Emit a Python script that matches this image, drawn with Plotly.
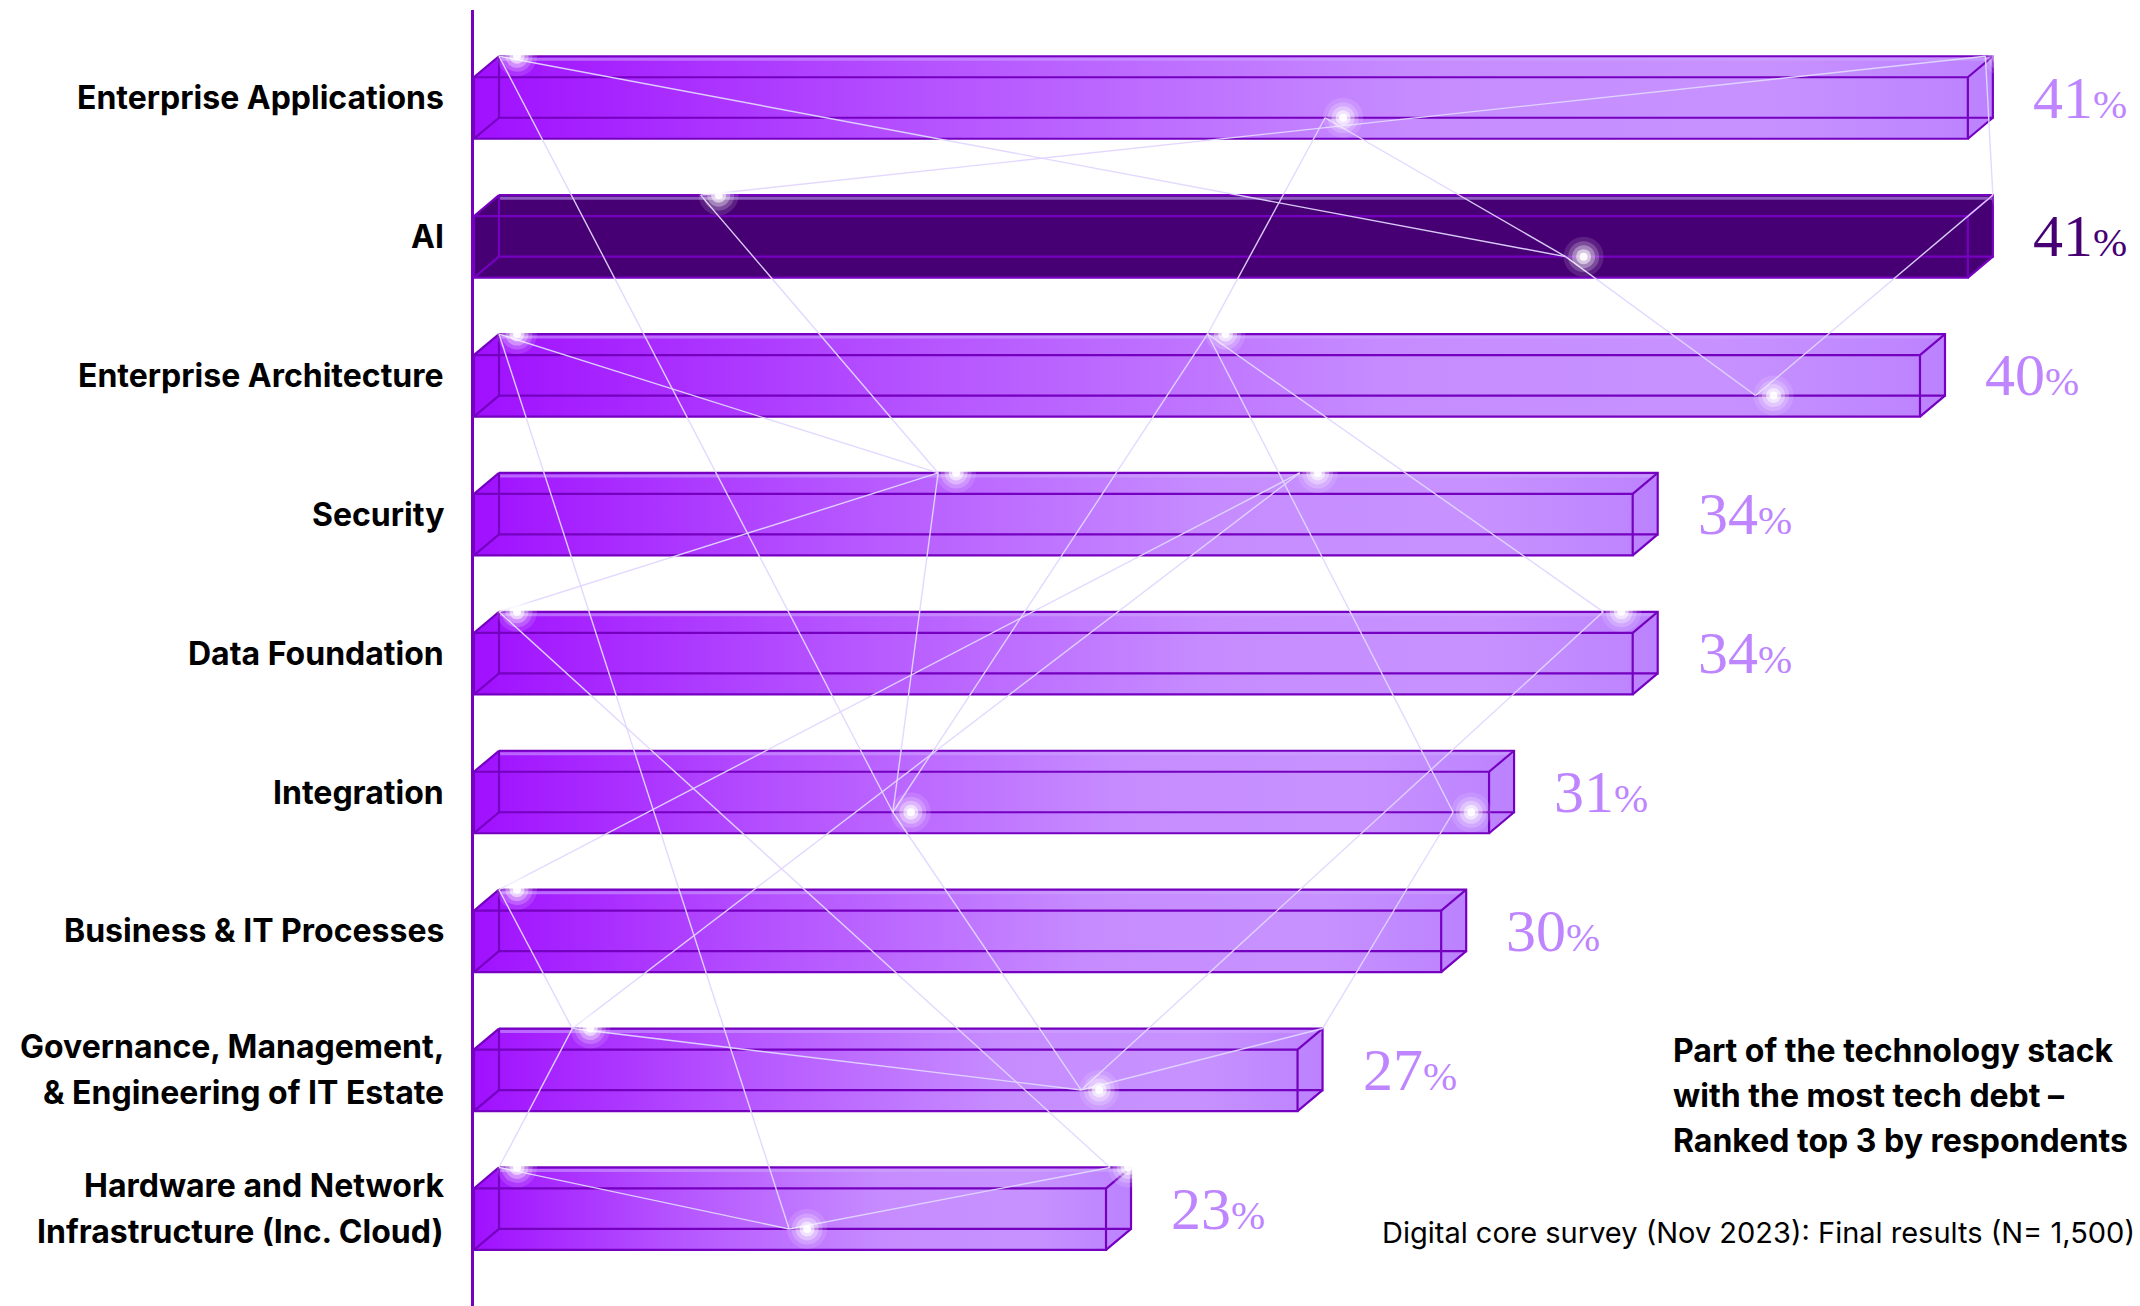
import plotly.graph_objects as go

# ---------------------------------------------------------------- data
categories = [
    "Enterprise Applications",
    "AI",
    "Enterprise Architecture",
    "Security",
    "Data Foundation",
    "Integration",
    "Business & IT Processes",
    "Governance, Management,<br>& Engineering of IT Estate",
    "Hardware and Network<br>Infrastructure (Inc. Cloud)",
]
values = [41, 41, 40, 34, 34, 31, 30, 27, 23]
highlight_category = "AI"

title_lines = [
    "Part of the technology stack",
    "with the most tech debt –",
    "Ranked top 3 by respondents",
]
source_note = "Digital core survey (Nov 2023): Final results (N= 1,500)"

# ---------------------------------------------------------------- styling
FIG_W, FIG_H = 2140, 1306
L_MARGIN, T_MARGIN = 474, 10
AXIS_START = 9.8          # value at which the category axis line sits
PX_PER_UNIT = 47.88       # horizontal scale
ROW0_PX, ROW_PITCH = 97.5, 138.9

DEPTH_X = 25 / PX_PER_UNIT     # 3D box depth (data units)
DEPTH_Y = 21 / ROW_PITCH
FACE_H = 61.5 / ROW_PITCH

EDGE = "#7500C0"
DARK = "#460073"
LAVENDER = "#BE85FF"
LINK = "rgba(226,214,255,0.95)"
BAR_SCALE = [
    [0.0, "#A010FF"],
    [0.3, "#B553FF"],
    [0.62, "#C68CFF"],
    [0.85, "#C792FF"],
    [1.0, "#BC82FF"],
]
SANS = "Inter, Roboto, Arial, sans-serif"
SERIF = "Liberation Serif, DejaVu Serif, serif"

x_range = [AXIS_START, AXIS_START + (FIG_W - L_MARGIN) / PX_PER_UNIT]
y_range = [(FIG_H - ROW0_PX) / ROW_PITCH, (T_MARGIN - ROW0_PX) / ROW_PITCH]


def box_geometry(row, value):
    x0, x1 = AXIS_START, value
    bt = row - (FACE_H + DEPTH_Y) / 2
    ft = bt + DEPTH_Y
    bb = bt + FACE_H
    fb = ft + FACE_H
    return x0, x1, bt, ft, bb, fb


fig = go.Figure()

# ---------------------------------------------------------------- 3D bars
for row, (cat, val) in enumerate(zip(categories, values)):
    x0, x1, bt, ft, bb, fb = box_geometry(row, val)
    dx = DEPTH_X
    sil_x = [x0, x0, x0 + dx, x1 + dx, x1 + dx, x1, x0]
    sil_y = [fb, ft, bt, bt, bb, fb, fb]
    fill_kw = {}
    if cat == highlight_category:
        fill_kw["fillcolor"] = DARK
    else:
        fill_kw["fillgradient"] = dict(
            type="horizontal", colorscale=BAR_SCALE, start=x0, stop=x1 + dx
        )
    fig.add_trace(go.Scatter(
        x=sil_x, y=sil_y, mode="lines", fill="toself",
        line=dict(width=0), hoverinfo="skip", **fill_kw,
    ))

    # light sheen just under the top back edge
    fig.add_trace(go.Scatter(
        x=[x0 + dx, x1 + dx], y=[bt + 3 / ROW_PITCH, bt + 3 / ROW_PITCH],
        mode="lines", line=dict(color="rgba(205,165,255,0.55)", width=3),
        hoverinfo="skip",
    ))

    # wireframe edges
    ex, ey = [], []
    segs = [
        [(x0, ft), (x1, ft), (x1, fb), (x0, fb), (x0, ft)],
        [(x0 + dx, bt), (x1 + dx, bt), (x1 + dx, bb), (x0 + dx, bb), (x0 + dx, bt)],
        [(x0, ft), (x0 + dx, bt)],
        [(x1, ft), (x1 + dx, bt)],
        [(x1, fb), (x1 + dx, bb)],
        [(x0, fb), (x0 + dx, bb)],
    ]
    for seg in segs:
        for px, py in seg:
            ex.append(px)
            ey.append(py)
        ex.append(None)
        ey.append(None)
    fig.add_trace(go.Scatter(
        x=ex, y=ey, mode="lines", line=dict(color=EDGE, width=2.2),
        hoverinfo="skip",
    ))

# ---------------------------------------------------------------- constellation
# node: (row, position along the bar's back edge 0..1, which back edge, glow)
star_nodes = {
    "A": (0, 0.0, "top", True),
    "B": (0, 0.553, "bottom", True),
    "C": (0, 0.995, "top", True),
    "D": (1, 0.135, "top", True),
    "E": (1, 0.714, "bottom", True),
    "F": (1, 1.0, "top", True),
    "G": (2, 0.0, "top", True),
    "H": (2, 0.49, "top", True),
    "I": (2, 0.869, "bottom", True),
    "J": (3, 0.379, "top", True),
    "K": (3, 0.691, "top", True),
    "L": (4, 0.0, "top", True),
    "M": (4, 0.953, "top", True),
    "N": (5, 0.388, "bottom", True),
    "O": (5, 0.94, "bottom", True),
    "P": (6, 0.0, "top", True),
    "Q": (7, 0.089, "top", True),
    "R": (7, 0.707, "bottom", True),
    "V": (7, 1.0, "top", False),
    "S": (8, 0.0, "top", True),
    "T": (8, 0.459, "bottom", True),
    "U": (8, 0.967, "top", True),
}
star_links = [
    "A-E", "A-N", "D-C", "C-F", "B-E", "B-H", "F-I", "E-I", "D-J", "G-J",
    "G-T", "H-N", "H-M", "H-O", "J-L", "J-N", "L-U", "K-P", "K-Q", "N-R",
    "R-V", "V-O", "R-M", "P-Q", "Q-R", "Q-S", "S-T", "T-U",
]


def node_xy(name):
    row, t, edge, _ = star_nodes[name]
    x0, x1, bt, ft, bb, fb = box_geometry(row, values[row])
    x = x0 + DEPTH_X + t * (x1 - x0)
    y = bt if edge == "top" else bb
    return x, y


lx, ly = [], []
for link in star_links:
    a, b = link.split("-")
    for n in (a, b):
        x, y = node_xy(n)
        lx.append(x)
        ly.append(y)
    lx.append(None)
    ly.append(None)
fig.add_trace(go.Scatter(
    x=lx, y=ly, mode="lines", line=dict(color=LINK, width=1.4),
    hoverinfo="skip",
))

# soft glow at the nodes, built from stacked translucent discs
glow = [node_xy(n) for n, v in star_nodes.items() if v[3]]
gx = [p[0] + 18 / PX_PER_UNIT for p in glow]
gy = [p[1] for p in glow]
for size, op in [(40, 0.12), (31, 0.2), (23, 0.32), (15, 0.55), (8, 0.9)]:
    fig.add_trace(go.Scatter(
        x=gx, y=gy, mode="markers",
        marker=dict(size=size, color="white", opacity=op, line=dict(width=0)),
        hoverinfo="skip",
    ))

# ---------------------------------------------------------------- text
annotations = []
LINE_GAP = 46
for row, (cat, val) in enumerate(zip(categories, values)):
    lines = cat.split("<br>")
    n = len(lines)
    for k, line in enumerate(lines):
        annotations.append(dict(
            xref="paper", x=0, xanchor="right", xshift=-28,
            yref="y", y=row, yanchor="middle",
            yshift=((n - 1) / 2 - k) * LINE_GAP,
            text=line, showarrow=False,
            font=dict(family=SANS, size=32, color="#000000", weight=700),
        ))
    color = DARK if cat == highlight_category else LAVENDER
    annotations.append(dict(
        xref="x", x=val + DEPTH_X + 38 / PX_PER_UNIT, xanchor="left",
        yref="y", y=row, yanchor="middle", yshift=0,
        text=f"{val}<span style='font-size:41px'>%</span>",
        showarrow=False,
        font=dict(family=SERIF, size=60, color=color),
    ))


def paper_x(px):
    return (px - L_MARGIN) / (FIG_W - L_MARGIN)


def paper_y(py):
    return (FIG_H - py) / (FIG_H - T_MARGIN)


TITLE_TOP = 1050
for k, line in enumerate(title_lines):
    annotations.append(dict(
        xref="paper", x=paper_x(1671), xanchor="left",
        yref="paper", y=paper_y(TITLE_TOP + k * 45), yanchor="middle",
        text=line, showarrow=False,
        font=dict(family=SANS, size=32, color="#000000", weight=700),
    ))
annotations.append(dict(
    xref="paper", x=paper_x(2137), xanchor="right",
    yref="paper", y=paper_y(1232), yanchor="middle",
    text=source_note, showarrow=False,
    font=dict(family=SANS, size=29, color="#000000"),
))

fig.update_layout(
    width=FIG_W, height=FIG_H,
    margin=dict(l=L_MARGIN, r=0, t=T_MARGIN, b=0, pad=0),
    paper_bgcolor="white", plot_bgcolor="white",
    showlegend=False,
    annotations=annotations,
    xaxis=dict(range=x_range, visible=False, fixedrange=True),
    yaxis=dict(
        range=y_range, showgrid=False, zeroline=False, showticklabels=False,
        ticks="", showline=True, linecolor=EDGE, linewidth=2.5,
        fixedrange=True,
    ),
)

fig.write_html("out.html", config={"displayModeBar": False})
